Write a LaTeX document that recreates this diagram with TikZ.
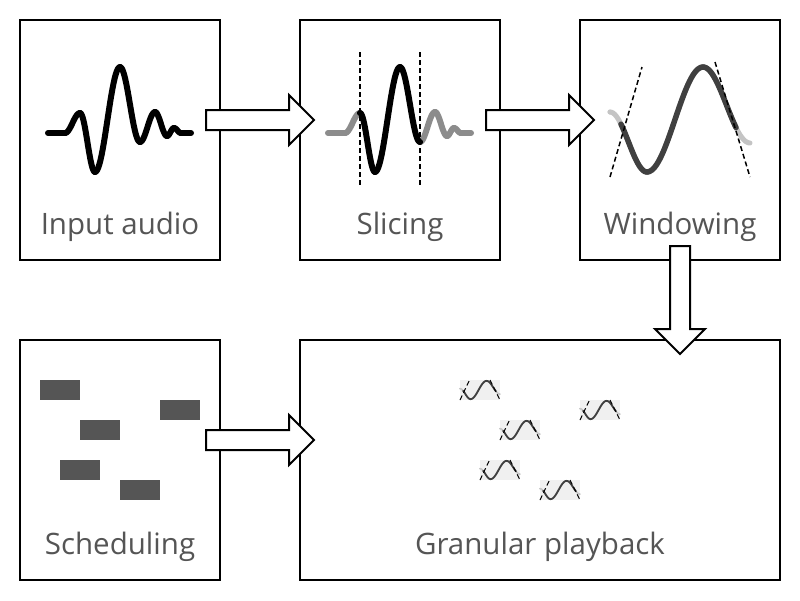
\documentclass[tikz,border=0pt]{standalone}
\usepackage{fontspec}
\setmainfont{Open Sans}
\usetikzlibrary{calc}
\definecolor{txt}{HTML}{555555}
\definecolor{midg}{HTML}{8C8C8C}
\definecolor{lightg}{HTML}{C4C4C4}
\definecolor{darkg}{HTML}{404040}
\definecolor{blockg}{HTML}{555555}
\definecolor{grainbg}{HTML}{F0F0F0}
% half-cosine segment between extrema (x1,y1) and (x2,y2), drawn on domain d1:d2
\newcommand{\hcseg}[7][]{%
  \draw[#1] plot[domain=#6:#7, samples=24, smooth] (\x,{(#3+#5)/2+(#3-#5)/2*cos(180*(\x-#2)/(#4-#2))});}
\newcommand{\wseg}[5][]{\hcseg[#1]{#2}{#3}{#4}{#5}{#2}{#4}}
% windowed slice glyph (in Windowing-box coordinates)
\newcommand{\winglyph}[3]{%
  \draw[wave, lightg, line width=#1] (610,112) -- (610,112);
  \wseg[wave, lightg, line width=#1]{610}{112}{647}{172}
  \wseg[wave, lightg, line width=#1]{647}{172}{703}{67}
  \wseg[wave, lightg, line width=#1]{703}{67}{750}{143}
  \hcseg[wave, darkg, line width=#2]{610}{112}{647}{172}{621}{647}
  \wseg[wave, darkg, line width=#2]{647}{172}{703}{67}
  \hcseg[wave, darkg, line width=#2]{703}{67}{750}{143}{703}{736}
  \draw[dsh, line width=#3] (610,177) -- (642,67);
  \draw[dsh, line width=#3] (715,62) -- (750,177);}
\newcommand{\rarrow}[2]{%
  \draw[blk] ($(#1.east)+(-15,-30)$) -- ($(#2.west)+(-10,-30)$) -- ($(#2.west)+(-10,-45)$)
    -- ($(#2.west)+(15,-20)$) -- ($(#2.west)+(-10,5)$) -- ($(#2.west)+(-10,-10)$)
    -- ($(#1.east)+(-15,-10)$) -- cycle;}
\newcommand{\darrow}[2]{%
  \draw[blk] ($(#1.south)+(-10,-15)$) -- ($(#1.south|-#2.north)+(-10,-10)$) -- ($(#1.south|-#2.north)+(-25,-10)$)
    -- ($(#1.south|-#2.north)+(0,15)$) -- ($(#1.south|-#2.north)+(25,-10)$) -- ($(#1.south|-#2.north)+(10,-10)$)
    -- ($(#1.south)+(10,-15)$) -- cycle;}
\begin{document}
\begin{tikzpicture}[x=1pt,y=-1pt,
  box/.style={draw=black, line width=2pt, fill=white, minimum width=200pt, minimum height=240pt, inner sep=0pt},
  lbl/.style={text=txt, font=\fontsize{29.5}{33}\selectfont, anchor=base, inner sep=0pt},
  blk/.style={draw=black, line width=2pt, fill=white, line join=miter},
  wave/.style={line width=6pt, line cap=round, line join=round},
  dsh/.style={black, line width=1.5pt, dash pattern=on 5pt off 3pt},
  sched/.style={fill=blockg},
  grain/.style={fill=grainbg}]
\useasboundingbox[fill=white] (0,0) rectangle (800,600);
% boxes
\node[box] (inp) at (120,140) {};
\node[box] (sli) at (400,140) {};
\node[box] (win) at (680,140) {};
\node[box] (sch) at (120,460) {};
\node[box, minimum width=480pt] (gra) at (540,460) {};
% labels
\node[lbl] (linp) at ($(inp.south)+(0,-27)$) {Input audio};
\node[lbl] (lsli) at ($(sli.south)+(0,-27)$) {Slicing};
\node[lbl] (lwin) at ($(win.south)+(0,-27)$) {Windowing};
\node[lbl] (lsch) at ($(sch.south)+(0,-27)$) {Scheduling};
\node[lbl] (lgra) at ($(gra.south)+(0,-27)$) {Granular playback};
% input audio waveform
\begin{scope}
\draw[wave, black] (48,133) -- (65,133);
\wseg[wave, black]{65}{133}{80}{113}
\wseg[wave, black]{80}{113}{95}{172}
\wseg[wave, black]{95}{172}{120}{67}
\wseg[wave, black]{120}{67}{140}{142}
\wseg[wave, black]{140}{142}{155}{112}
\wseg[wave, black]{155}{112}{167}{136}
\wseg[wave, black]{167}{136}{174}{128}
\wseg[wave, black]{174}{128}{181}{133}
\draw[wave, black] (181,133) -- (191,133);
\end{scope}
% slicing
\begin{scope}[shift={(280,0)}]
\draw[wave, midg] (48,133) -- (65,133);
\wseg[wave, midg]{65}{133}{80}{113}
\wseg[wave, midg]{140}{142}{155}{112}
\wseg[wave, midg]{155}{112}{167}{136}
\wseg[wave, midg]{167}{136}{174}{128}
\wseg[wave, midg]{174}{128}{181}{133}
\draw[wave, midg] (181,133) -- (191,133);
\wseg[wave, black]{80}{113}{95}{172}
\wseg[wave, black]{95}{172}{120}{67}
\wseg[wave, black]{120}{67}{140}{142}
\draw[dsh] (80,52) -- (80,185);
\draw[dsh] (140,52) -- (140,185);
\end{scope}
% windowing
\winglyph{5pt}{5.5pt}{1.5pt}
% scheduling blocks
\foreach \px/\py in {40/380, 80/420, 60/460, 160/400, 120/480}
  \fill[sched] (\px,\py) rectangle ++(40,20);
% grains
\foreach \px/\py in {460/380, 500/420, 480/460, 580/400, 540/480}{
  \fill[grain] (\px,\py) rectangle ++(40,20);
  \begin{scope}[shift={(\px,\py)}, xscale=0.2857, yscale=0.1739, shift={(-610,-62)}]
    \winglyph{1.6pt}{1.8pt}{1pt}
  \end{scope}
}
% arrows
\rarrow{inp}{sli}
\rarrow{sli}{win}
\darrow{win}{gra}
\rarrow{sch}{gra}
\end{tikzpicture}
\end{document}
